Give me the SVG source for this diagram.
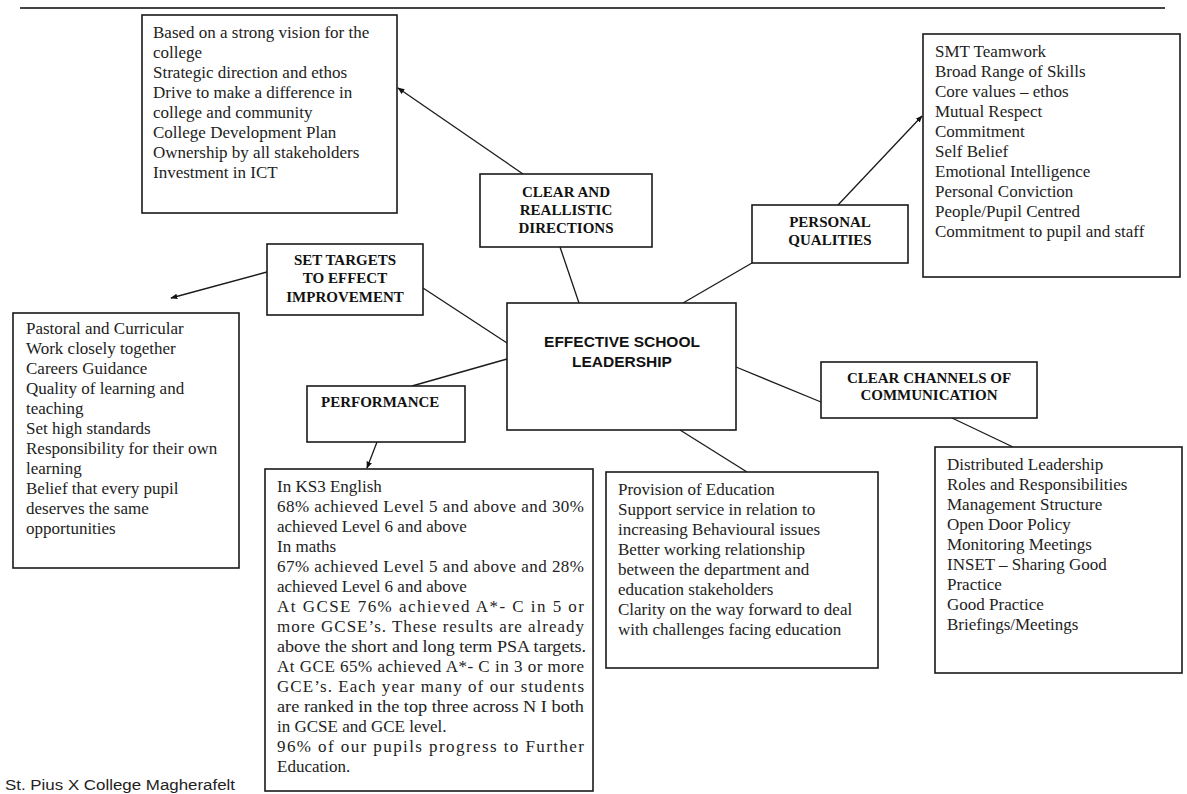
<svg xmlns="http://www.w3.org/2000/svg" width="1187" height="794" viewBox="0 0 1187 794">
<style>
.box{fill:#fff;stroke:#1a1a1a;stroke-width:1.6}
.body{font-family:"Liberation Serif","Times New Roman",serif;font-size:17px;fill:#222}
.head{font-family:"Liberation Serif","Times New Roman",serif;font-size:15px;font-weight:bold;fill:#111;text-anchor:middle}
.main{font-family:"Liberation Sans",Arial,sans-serif;font-size:15.5px;font-weight:bold;fill:#111;text-anchor:middle}
.con{stroke:#1a1a1a;stroke-width:1.3;fill:none}
.foot{font-family:"Liberation Sans",Arial,sans-serif;font-size:14px;fill:#222}
</style>
<defs>
<marker id="ah" viewBox="0 0 10 10" refX="9" refY="5" markerWidth="7" markerHeight="7" orient="auto" markerUnits="userSpaceOnUse">
<path d="M0,1 L10,5 L0,9 z" fill="#111"/>
</marker>
</defs>
<rect width="1187" height="794" fill="#fff"/>
<line x1="20" y1="8" x2="1165" y2="8" stroke="#444" stroke-width="2"/>

<g id="connectors">
<line class="con" x1="523" y1="174" x2="398" y2="88" marker-end="url(#ah)"/>
<line class="con" x1="838" y1="205" x2="922" y2="116" marker-end="url(#ah)"/>
<line class="con" x1="267" y1="272" x2="171" y2="298" marker-end="url(#ah)"/>
<line class="con" x1="377" y1="442" x2="367" y2="468" marker-end="url(#ah)"/>
<line class="con" x1="560" y1="247" x2="579" y2="303"/>
<line class="con" x1="683" y1="303" x2="752" y2="263"/>
<line class="con" x1="423" y1="288" x2="507" y2="343"/>
<line class="con" x1="507" y1="359" x2="412" y2="386"/>
<line class="con" x1="736" y1="367" x2="821" y2="402"/>
<line class="con" x1="680" y1="430" x2="747" y2="472"/>
<line class="con" x1="952" y1="418" x2="1013" y2="447"/>
</g>

<g id="vision">
<rect class="box" x="142" y="15" width="255" height="198"/>
<text class="body" x="153" y="38">Based on a strong vision for the</text>
<text class="body" x="153" y="58">college</text>
<text class="body" x="153" y="78">Strategic direction and ethos</text>
<text class="body" x="153" y="98">Drive to make a difference in</text>
<text class="body" x="153" y="118">college and community</text>
<text class="body" x="153" y="138">College Development Plan</text>
<text class="body" x="153" y="158">Ownership by all stakeholders</text>
<text class="body" x="153" y="178">Investment in ICT</text>
</g>

<g id="qualities-list">
<rect class="box" x="923" y="34" width="257" height="243"/>
<text class="body" x="935" y="57">SMT Teamwork</text>
<text class="body" x="935" y="77">Broad Range of Skills</text>
<text class="body" x="935" y="97">Core values – ethos</text>
<text class="body" x="935" y="117">Mutual Respect</text>
<text class="body" x="935" y="137">Commitment</text>
<text class="body" x="935" y="157">Self Belief</text>
<text class="body" x="935" y="177">Emotional Intelligence</text>
<text class="body" x="935" y="197">Personal Conviction</text>
<text class="body" x="935" y="217">People/Pupil Centred</text>
<text class="body" x="935" y="237">Commitment to pupil and staff</text>
</g>

<g id="clear-directions">
<rect class="box" x="480" y="174" width="172" height="73"/>
<text class="head" x="566" y="197">CLEAR AND</text>
<text class="head" x="566" y="215">REALLISTIC</text>
<text class="head" x="566" y="233">DIRECTIONS</text>
</g>

<g id="personal-qualities">
<rect class="box" x="752" y="205" width="156" height="58"/>
<text class="head" x="830" y="227">PERSONAL</text>
<text class="head" x="830" y="245">QUALITIES</text>
</g>

<g id="set-targets">
<rect class="box" x="267" y="244" width="156" height="71"/>
<text class="head" x="345" y="265">SET TARGETS</text>
<text class="head" x="345" y="283">TO EFFECT</text>
<text class="head" x="345" y="302">IMPROVEMENT</text>
</g>

<g id="center">
<rect class="box" x="507" y="303" width="229" height="127"/>
<text class="main" x="622" y="347">EFFECTIVE SCHOOL</text>
<text class="main" x="622" y="367">LEADERSHIP</text>
</g>

<g id="targets-list">
<rect class="box" x="13" y="313" width="226" height="255"/>
<text class="body" x="26" y="334">Pastoral and Curricular</text>
<text class="body" x="26" y="354">Work closely together</text>
<text class="body" x="26" y="374">Careers Guidance</text>
<text class="body" x="26" y="394">Quality of learning and</text>
<text class="body" x="26" y="414">teaching</text>
<text class="body" x="26" y="434">Set high standards</text>
<text class="body" x="26" y="454">Responsibility for their own</text>
<text class="body" x="26" y="474">learning</text>
<text class="body" x="26" y="494">Belief that every pupil</text>
<text class="body" x="26" y="514">deserves the same</text>
<text class="body" x="26" y="534">opportunities</text>
</g>

<g id="performance">
<rect class="box" x="307" y="386" width="158" height="56"/>
<text class="head" x="321" y="407" style="text-anchor:start">PERFORMANCE</text>
</g>

<g id="channels">
<rect class="box" x="821" y="362" width="216" height="56"/>
<text class="head" x="929" y="383">CLEAR CHANNELS OF</text>
<text class="head" x="929" y="400">COMMUNICATION</text>
</g>

<g id="performance-list">
<rect class="box" x="265" y="469" width="328" height="322"/>
<text class="body" x="277" y="492">In KS3 English</text>
<text class="body" x="277" y="512" textLength="307" lengthAdjust="spacing">68% achieved Level 5 and above and 30%</text>
<text class="body" x="277" y="532">achieved Level 6 and above</text>
<text class="body" x="277" y="552">In maths</text>
<text class="body" x="277" y="572" textLength="307" lengthAdjust="spacing">67% achieved Level 5 and above and 28%</text>
<text class="body" x="277" y="592">achieved Level 6 and above</text>
<text class="body" x="277" y="612" textLength="307" lengthAdjust="spacing">At GCSE 76% achieved A*- C in 5 or</text>
<text class="body" x="277" y="632" textLength="307" lengthAdjust="spacing">more GCSE’s.  These results are already</text>
<text class="body" x="277" y="652" textLength="309" lengthAdjust="spacingAndGlyphs">above the short and long term PSA targets.</text>
<text class="body" x="277" y="672" textLength="307" lengthAdjust="spacing">At GCE 65% achieved A*- C in 3 or more</text>
<text class="body" x="277" y="692" textLength="307" lengthAdjust="spacing">GCE’s.  Each year many of our students</text>
<text class="body" x="277" y="712" textLength="307" lengthAdjust="spacingAndGlyphs">are ranked in the top three across N I both</text>
<text class="body" x="277" y="732">in GCSE and GCE level.</text>
<text class="body" x="277" y="752" textLength="307" lengthAdjust="spacing">96% of our pupils progress to Further</text>
<text class="body" x="277" y="772">Education.</text>
</g>

<g id="provision-list">
<rect class="box" x="606" y="472" width="272" height="196"/>
<text class="body" x="618" y="495">Provision of Education</text>
<text class="body" x="618" y="515">Support service in relation to</text>
<text class="body" x="618" y="535">increasing Behavioural issues</text>
<text class="body" x="618" y="555">Better working relationship</text>
<text class="body" x="618" y="575">between the department and</text>
<text class="body" x="618" y="595">education stakeholders</text>
<text class="body" x="618" y="615">Clarity on the way forward to deal</text>
<text class="body" x="618" y="635">with challenges facing education</text>
</g>

<g id="channels-list">
<rect class="box" x="935" y="447" width="247" height="226"/>
<text class="body" x="947" y="470">Distributed Leadership</text>
<text class="body" x="947" y="490">Roles and Responsibilities</text>
<text class="body" x="947" y="510">Management Structure</text>
<text class="body" x="947" y="530">Open Door Policy</text>
<text class="body" x="947" y="550">Monitoring Meetings</text>
<text class="body" x="947" y="570">INSET – Sharing Good</text>
<text class="body" x="947" y="590">Practice</text>
<text class="body" x="947" y="610">Good Practice</text>
<text class="body" x="947" y="630">Briefings/Meetings</text>
</g>

<text class="foot" x="5" y="790" textLength="230" lengthAdjust="spacingAndGlyphs">St. Pius X College Magherafelt</text>
</svg>
